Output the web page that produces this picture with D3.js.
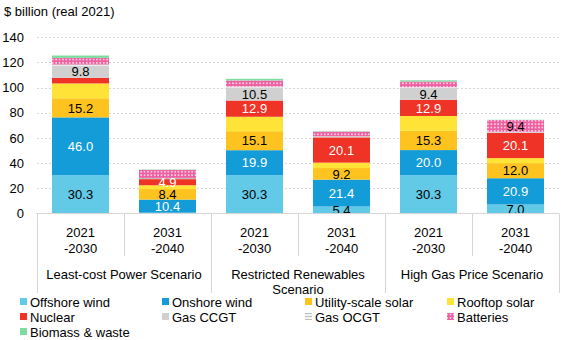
<!DOCTYPE html>
<html>
<head>
<meta charset="utf-8">
<script src="https://cdn.jsdelivr.net/npm/d3@7"></script>
<style>
    body { margin: 0; background: #fff; }
    text { font-family: "Liberation Sans", Arial, sans-serif; font-size: 13px; fill: #000; }
</style>
</head>
<body>
<div id="capexChart"></div>
<script>
// chart data
var scenarioNames = [["Least-cost Power Scenario"], ["Restricted Renewables", "Scenario"], ["High Gas Price Scenario"]];
var periodLabels = [["2021", "-2030"], ["2031", "-2040"]];
var columns = ["lc1", "lc2", "rr1", "rr2", "hg1", "hg2"];

var technologies = ["Offshore wind", "Onshore wind", "Utility-scale solar", "Rooftop solar",
    "Nuclear", "Gas CCGT", "Gas OCGT", "Batteries", "Biomass & waste"];

var offshoreWind = [30.3, 0.5, 30.3, 5.4, 30.3, 7.0];
var onshoreWind = [46.0, 10.4, 19.9, 21.4, 20.0, 20.9];
var utilitySolar = [15.2, 8.4, 15.1, 9.2, 15.3, 12.0];
var rooftopSolar = [11.8, 3.0, 11.5, 4.3, 11.8, 4.0];
var nuclear = [4.5, 4.9, 12.9, 20.1, 12.9, 20.1];
var gasCCGT = [9.8, 0, 10.5, 1.0, 9.4, 0.6];
var gasOCGT = [0.8, 0.9, 0.6, 0, 0.6, 0.2];
var batteries = [5.2, 6.4, 4.9, 3.6, 4.5, 9.4];
var biomass = [1.9, 0.3, 1.3, 0.3, 1.0, 0.2];

// which segments carry a value label (column indexes)
var labelledOffshore = [0, 2, 3, 4, 5];
var labelledOnshore = [0, 1, 2, 3, 4, 5];
var labelledUtility = [0, 1, 2, 3, 4, 5];
var labelledNuclear = [1, 2, 3, 4, 5];
var labelledCCGT = [0, 2, 4];
var labelledBatteries = [5];

var yTicks = [0, 20, 40, 60, 80, 100, 120, 140];

var seriesValues = [offshoreWind, onshoreWind, utilitySolar, rooftopSolar, nuclear, gasCCGT, gasOCGT, batteries, biomass];
var seriesLabels = [labelledOffshore, labelledOnshore, labelledUtility, [], labelledNuclear, labelledCCGT, [], labelledBatteries, []];
var fills = ["#62c9e7", "#149cd8", "#fec31f", "#ffe437", "#ef3326", "#d0d0d0", "url(#ocgtFill)", "url(#battFill)", "#7edca0"];
var labelColours = ["#000", "#fff", "#000", "#000", "#fff", "#000", "#000", "#000", "#000"];

var width = 567, height = 340;

var svg = d3.select("#capexChart")
    .append("svg")
    .attr("width", width)
    .attr("height", height)
    .style("display", "block");

var defs = svg.append("defs");

var batt = defs.append("pattern")
    .attr("id", "battFill")
    .attr("patternUnits", "userSpaceOnUse")
    .attr("width", 3.4).attr("height", 3.4);
batt.append("rect").attr("width", 3.4).attr("height", 3.4).attr("fill", "#ee5ea0");
batt.append("rect").attr("x", 0.9).attr("y", 0.9).attr("width", 1.7).attr("height", 1.7).attr("fill", "#fbd0e2");

var ocgt = defs.append("pattern")
    .attr("id", "ocgtFill")
    .attr("patternUnits", "userSpaceOnUse")
    .attr("width", 4).attr("height", 3);
ocgt.append("rect").attr("width", 4).attr("height", 3).attr("fill", "#f4f4f4");
ocgt.append("rect").attr("y", 1).attr("width", 4).attr("height", 1).attr("fill", "#bdbdbd");

defs.append("clipPath").attr("id", "plotClip")
    .append("rect").attr("x", 0).attr("y", 0).attr("width", width).attr("height", 213.3);

var x = d3.scaleBand()
    .domain(columns)
    .range([37, 559])
    .paddingInner(0.345)
    .paddingOuter(0.1725);

var y = d3.scaleLinear()
    .domain([0, 140])
    .range([213.3, 37.3]);

// axis title
svg.append("text").attr("x", 4).attr("y", 16).text("$ billion (real 2021)");

// dashed gridlines + tick labels
var yAxis = d3.axisLeft(y).tickValues(yTicks).tickSize(0).tickPadding(13);
var yAxisG = svg.append("g").attr("transform", "translate(37,0)").call(yAxis);
yAxisG.select(".domain").remove();
yAxisG.selectAll("text").style("font-size", "13px").attr("x", -13);

svg.append("g").selectAll("line")
    .data(yTicks.filter(function (d) { return d > 0; }))
    .join("line")
    .attr("x1", 37).attr("x2", 559)
    .attr("y1", function (d) { return Math.round(y(d)) + 0.5; })
    .attr("y2", function (d) { return Math.round(y(d)) + 0.5; })
    .attr("stroke", "#d6d6d6")
    .attr("stroke-dasharray", "2,2");

// stacked bars
var rows = columns.map(function (c, i) {
    var row = { col: c };
    technologies.forEach(function (t, k) { row[t] = seriesValues[k][i]; });
    return row;
});
var stacked = d3.stack().keys(technologies)(rows);

var barG = svg.append("g");
barG.selectAll("g")
    .data(stacked)
    .join("g")
    .attr("fill", function (d, k) { return fills[k]; })
    .selectAll("rect")
    .data(function (d) { return d; })
    .join("rect")
    .attr("x", function (d) { return x(d.data.col); })
    .attr("width", x.bandwidth())
    .attr("y", function (d) { return y(d[1]); })
    .attr("height", function (d) { return y(d[0]) - y(d[1]); });

// segment values
var labelG = svg.append("g").attr("clip-path", "url(#plotClip)");
stacked.forEach(function (layer, k) {
    labelG.append("g").selectAll("text")
        .data(seriesLabels[k].map(function (i) { return layer[i]; }))
        .join("text")
        .attr("x", function (d) { return x(d.data.col) + x.bandwidth() / 2; })
        .attr("y", function (d) { return (y(d[0]) + y(d[1])) / 2; })
        .attr("dy", "0.36em")
        .attr("text-anchor", "middle")
        .style("fill", labelColours[k])
        .text(function (d) { return (d[1] - d[0]).toFixed(1); });
});

// totals above bars
var top = stacked[stacked.length - 1];
svg.append("g").selectAll("text")
    .data(top)
    .join("text")
    .attr("x", function (d) { return x(d.data.col) + x.bandwidth() / 2; })
    .attr("y", function (d) { return y(d[1]) - 12; })
    .attr("text-anchor", "middle")
    .text(function (d) { return d[1].toFixed(1); });

// category axis
var step = x.step();
var axisG = svg.append("g");
axisG.append("line")
    .attr("x1", 36).attr("x2", 559)
    .attr("y1", 213.5).attr("y2", 213.5)
    .attr("stroke", "#d6d6d6");

d3.range(columns.length + 1).forEach(function (k) {
    var xPos = Math.round(37 + k * step) + 0.5;
    axisG.append("line")
        .attr("x1", xPos).attr("x2", xPos)
        .attr("y1", 213.5).attr("y2", k % 2 === 0 ? 293 : 256)
        .attr("stroke", "#d6d6d6");
});

columns.forEach(function (c, i) {
    var lines = periodLabels[i % 2];
    var t = axisG.append("text")
        .attr("x", x(c) + x.bandwidth() / 2)
        .attr("text-anchor", "middle");
    lines.forEach(function (l, j) {
        t.append("tspan").attr("x", x(c) + x.bandwidth() / 2).attr("y", 237 + j * 16).text(l);
    });
});

scenarioNames.forEach(function (lines, s) {
    var cx = 37 + (2 * s + 1) * step;
    var t = axisG.append("text").attr("text-anchor", "middle");
    lines.forEach(function (l, j) {
        t.append("tspan").attr("x", cx).attr("y", 279 + j * 15).text(l);
    });
});

// legend
var legendX = [20, 162, 305, 447];
var legendY = [307, 322, 337];
var legendG = svg.append("g");
technologies.forEach(function (t, k) {
    var lx = legendX[k % 4], ly = legendY[Math.floor(k / 4)];
    legendG.append("rect")
        .attr("x", lx).attr("y", ly - 9)
        .attr("width", 7).attr("height", 7)
        .attr("fill", fills[k]);
    legendG.append("text")
        .attr("x", lx + 10).attr("y", ly)
        .text(t);
});
</script>
</body>
</html>
